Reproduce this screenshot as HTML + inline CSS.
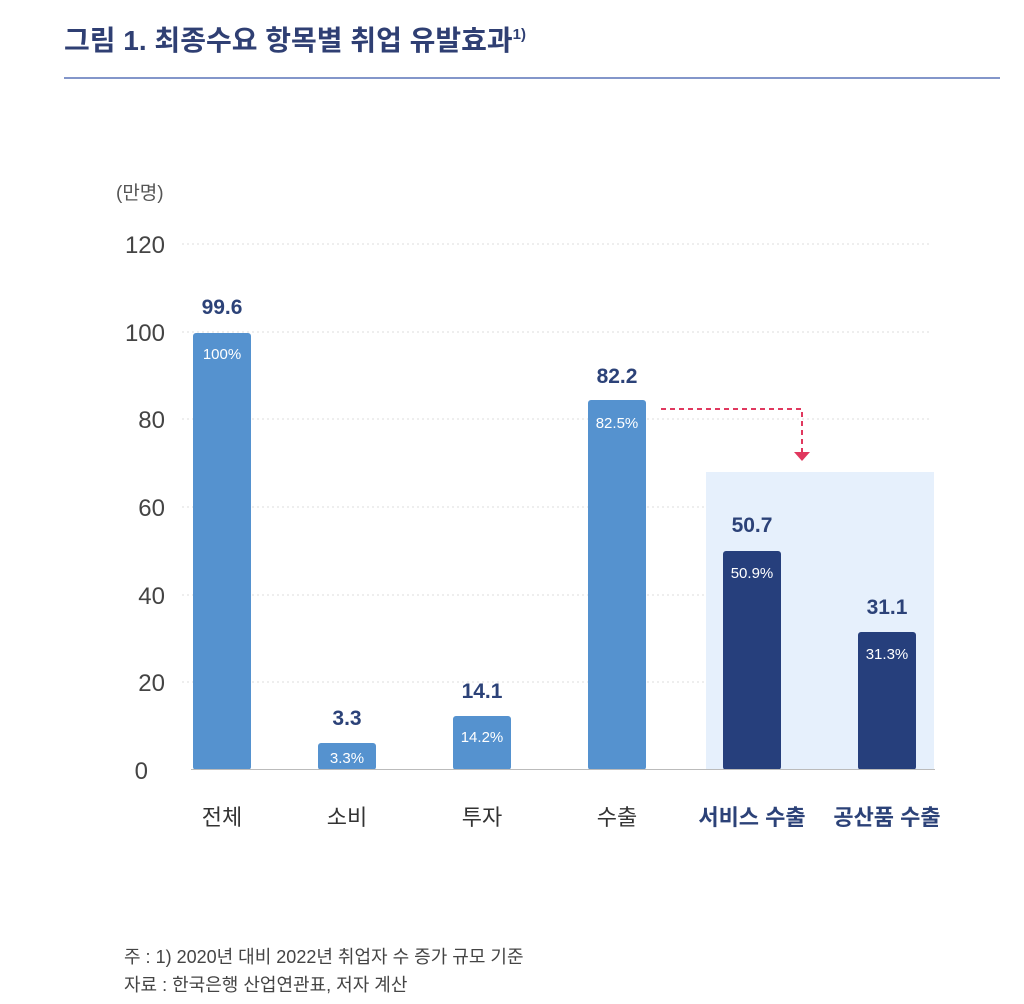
<!DOCTYPE html>
<html><head><meta charset="utf-8"><style>
html,body{margin:0;padding:0;background:#fff;}
svg{display:block;}
text{font-family:"Liberation Sans","Noto Sans CJK KR",sans-serif;}
</style></head><body>
<svg width="1024" height="1004" viewBox="0 0 1024 1004" xmlns="http://www.w3.org/2000/svg">
<text x="64" y="50" font-size="28" font-weight="bold" fill="#2f3f73">그림 1. 최종수요 항목별 취업 유발효과<tspan font-size="15" dy="-11">1)</tspan></text>
<line x1="64" y1="78" x2="1000" y2="78" stroke="#5a74b8" stroke-width="1.5"/>
<text x="116" y="199" font-size="19" fill="#555">(만명)</text>
<g font-size="24" fill="#444" text-anchor="end">
<text x="165" y="253">120</text>
<text x="165" y="341">100</text>
<text x="165" y="428">80</text>
<text x="165" y="516">60</text>
<text x="165" y="604">40</text>
<text x="165" y="691">20</text>
<text x="148" y="779">0</text>
</g>
<g stroke="#ddd" stroke-width="1" stroke-dasharray="2,3">
<line x1="182" y1="244" x2="930" y2="244"/>
<line x1="182" y1="332" x2="930" y2="332"/>
<line x1="182" y1="419" x2="930" y2="419"/>
<line x1="182" y1="507" x2="930" y2="507"/>
<line x1="182" y1="595" x2="930" y2="595"/>
<line x1="182" y1="682" x2="930" y2="682"/>
</g>
<rect x="706" y="472" width="228" height="298" fill="#e6f0fc"/>
<g fill="#5592cf">
<rect x="193" y="333" width="58" height="437" rx="3"/>
<rect x="318" y="743" width="58" height="27" rx="3"/>
<rect x="453" y="716" width="58" height="54" rx="3"/>
<rect x="588" y="400" width="58" height="370" rx="3"/>
</g>
<g fill="#263f7c">
<rect x="723" y="551" width="58" height="219" rx="3"/>
<rect x="858" y="632" width="58" height="138" rx="3"/>
</g>
<line x1="191" y1="769.5" x2="935" y2="769.5" stroke="#bbb" stroke-width="1"/>
<g font-size="15" fill="#fff" text-anchor="middle">
<text x="222" y="359">100%</text>
<text x="347" y="763">3.3%</text>
<text x="482" y="742">14.2%</text>
<text x="617" y="428">82.5%</text>
<text x="752" y="578">50.9%</text>
<text x="887" y="659">31.3%</text>
</g>
<g font-size="21" font-weight="bold" fill="#2c4278" text-anchor="middle">
<text x="222" y="314">99.6</text>
<text x="347" y="725">3.3</text>
<text x="482" y="698">14.1</text>
<text x="617" y="383">82.2</text>
<text x="752" y="532">50.7</text>
<text x="887" y="614">31.1</text>
</g>
<path d="M661 409 H802 V452" fill="none" stroke="#e0385e" stroke-width="2" stroke-dasharray="5,4"/>
<polygon points="794,452 810,452 802,461" fill="#e0385e"/>
<g font-size="22" text-anchor="middle">
<text x="222" y="825" fill="#333">전체</text>
<text x="347" y="825" fill="#333">소비</text>
<text x="482" y="825" fill="#333">투자</text>
<text x="617" y="825" fill="#333">수출</text>
<text x="752" y="825" fill="#2c4278" font-weight="bold">서비스 수출</text>
<text x="887" y="825" fill="#2c4278" font-weight="bold">공산품 수출</text>
</g>
<text x="124" y="963" font-size="18" fill="#444">주 : 1) 2020년 대비 2022년 취업자 수 증가 규모 기준</text>
<text x="124" y="991" font-size="18" fill="#444">자료 : 한국은행 산업연관표, 저자 계산</text>
</svg>
</body></html>
